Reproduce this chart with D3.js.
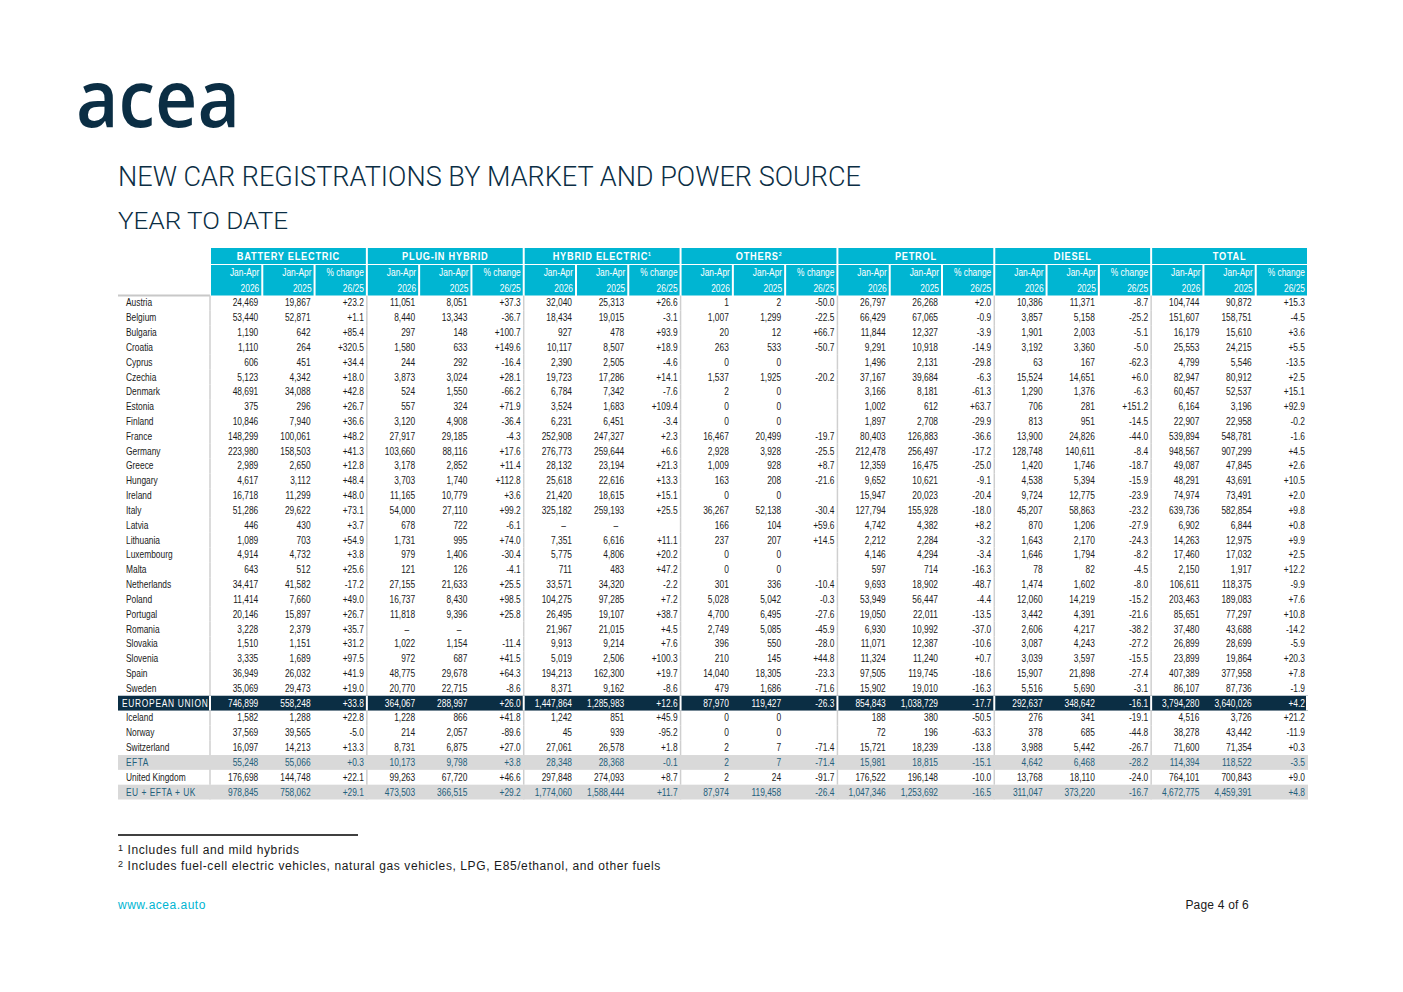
<!DOCTYPE html>
<html><head><meta charset="utf-8">
<script src="https://cdn.jsdelivr.net/npm/d3@7/dist/d3.min.js"></script>
<style>body{margin:0;background:#fff}svg{display:block}</style>
</head><body>
<svg id="c" width="1403" height="992"></svg>
<script>
const countries=["Austria","Belgium","Bulgaria","Croatia","Cyprus","Czechia","Denmark","Estonia","Finland","France","Germany","Greece","Hungary","Ireland","Italy","Latvia","Lithuania","Luxembourg","Malta","Netherlands","Poland","Portugal","Romania","Slovakia","Slovenia","Spain","Sweden","EUROPEAN UNION","Iceland","Norway","Switzerland","EFTA","United Kingdom","EU + EFTA + UK"];
const groups=["BATTERY ELECTRIC","PLUG-IN HYBRID","HYBRID ELECTRIC","OTHERS","PETROL","DIESEL","TOTAL"];
const groupSup=["","","1","2","","",""];
const subHead1=["Jan-Apr","Jan-Apr","% change"];
const subHead2=["2026","2025","26/25"];
const bev26=[24469,53440,1190,1110,606,5123,48691,375,10846,148299,223980,2989,4617,16718,51286,446,1089,4914,643,34417,11414,20146,3228,1510,3335,36949,35069,746899,1582,37569,16097,55248,176698,978845];
const bev25=[19867,52871,642,264,451,4342,34088,296,7940,100061,158503,2650,3112,11299,29622,430,703,4732,512,41582,7660,15897,2379,1151,1689,26032,29473,558248,1288,39565,14213,55066,144748,758062];
const bevCh=[23.2,1.1,85.4,320.5,34.4,18.0,42.8,26.7,36.6,48.2,41.3,12.8,48.4,48.0,73.1,3.7,54.9,3.8,25.6,-17.2,49.0,26.7,35.7,31.2,97.5,41.9,19.0,33.8,22.8,-5.0,13.3,0.3,22.1,29.1];
const phev26=[11051,8440,297,1580,244,3873,524,557,3120,27917,103660,3178,3703,11165,54000,678,1731,979,121,27155,16737,11818,null,1022,972,48775,20770,364067,1228,214,8731,10173,99263,473503];
const phev25=[8051,13343,148,633,292,3024,1550,324,4908,29185,88116,2852,1740,10779,27110,722,995,1406,126,21633,8430,9396,null,1154,687,29678,22715,288997,866,2057,6875,9798,67720,366515];
const phevCh=[37.3,-36.7,100.7,149.6,-16.4,28.1,-66.2,71.9,-36.4,-4.3,17.6,11.4,112.8,3.6,99.2,-6.1,74.0,-30.4,-4.1,25.5,98.5,25.8,null,-11.4,41.5,64.3,-8.6,26.0,41.8,-89.6,27.0,3.8,46.6,29.2];
const hev26=[32040,18434,927,10117,2390,19723,6784,3524,6231,252908,276773,28132,25618,21420,325182,null,7351,5775,711,33571,104275,26495,21967,9913,5019,194213,8371,1447864,1242,45,27061,28348,297848,1774060];
const hev25=[25313,19015,478,8507,2505,17286,7342,1683,6451,247327,259644,23194,22616,18615,259193,null,6616,4806,483,34320,97285,19107,21015,9214,2506,162300,9162,1285983,851,939,26578,28368,274093,1588444];
const hevCh=[26.6,-3.1,93.9,18.9,-4.6,14.1,-7.6,109.4,-3.4,2.3,6.6,21.3,13.3,15.1,25.5,null,11.1,20.2,47.2,-2.2,7.2,38.7,4.5,7.6,100.3,19.7,-8.6,12.6,45.9,-95.2,1.8,-0.1,8.7,11.7];
const oth26=[1,1007,20,263,0,1537,2,0,0,16467,2928,1009,163,0,36267,166,237,0,0,301,5028,4700,2749,396,210,14040,479,87970,0,0,2,2,2,87974];
const oth25=[2,1299,12,533,0,1925,0,0,0,20499,3928,928,208,0,52138,104,207,0,0,336,5042,6495,5085,550,145,18305,1686,119427,0,0,7,7,24,119458];
const othCh=[-50.0,-22.5,66.7,-50.7,null,-20.2,null,null,null,-19.7,-25.5,8.7,-21.6,null,-30.4,59.6,14.5,null,null,-10.4,-0.3,-27.6,-45.9,-28.0,44.8,-23.3,-71.6,-26.3,null,null,-71.4,-71.4,-91.7,-26.4];
const pet26=[26797,66429,11844,9291,1496,37167,3166,1002,1897,80403,212478,12359,9652,15947,127794,4742,2212,4146,597,9693,53949,19050,6930,11071,11324,97505,15902,854843,188,72,15721,15981,176522,1047346];
const pet25=[26268,67065,12327,10918,2131,39684,8181,612,2708,126883,256497,16475,10621,20023,155928,4382,2284,4294,714,18902,56447,22011,10992,12387,11240,119745,19010,1038729,380,196,18239,18815,196148,1253692];
const petCh=[2.0,-0.9,-3.9,-14.9,-29.8,-6.3,-61.3,63.7,-29.9,-36.6,-17.2,-25.0,-9.1,-20.4,-18.0,8.2,-3.2,-3.4,-16.3,-48.7,-4.4,-13.5,-37.0,-10.6,0.7,-18.6,-16.3,-17.7,-50.5,-63.3,-13.8,-15.1,-10.0,-16.5];
const die26=[10386,3857,1901,3192,63,15524,1290,706,813,13900,128748,1420,4538,9724,45207,870,1643,1646,78,1474,12060,3442,2606,3087,3039,15907,5516,292637,276,378,3988,4642,13768,311047];
const die25=[11371,5158,2003,3360,167,14651,1376,281,951,24826,140611,1746,5394,12775,58863,1206,2170,1794,82,1602,14219,4391,4217,4243,3597,21898,5690,348642,341,685,5442,6468,18110,373220];
const dieCh=[-8.7,-25.2,-5.1,-5.0,-62.3,6.0,-6.3,151.2,-14.5,-44.0,-8.4,-18.7,-15.9,-23.9,-23.2,-27.9,-24.3,-8.2,-4.5,-8.0,-15.2,-21.6,-38.2,-27.2,-15.5,-27.4,-3.1,-16.1,-19.1,-44.8,-26.7,-28.2,-24.0,-16.7];
const tot26=[104744,151607,16179,25553,4799,82947,60457,6164,22907,539894,948567,49087,48291,74974,639736,6902,14263,17460,2150,106611,203463,85651,37480,26899,23899,407389,86107,3794280,4516,38278,71600,114394,764101,4672775];
const tot25=[90872,158751,15610,24215,5546,80912,52537,3196,22958,548781,907299,47845,43691,73491,582854,6844,12975,17032,1917,118375,189083,77297,43688,28699,19864,377958,87736,3640026,3726,43442,71354,118522,700843,4459391];
const totCh=[15.3,-4.5,3.6,5.5,-13.5,2.5,15.1,92.9,-0.2,-1.6,4.5,2.6,10.5,2.0,9.8,0.8,9.9,2.5,12.2,-9.9,7.6,10.8,-14.2,-5.9,20.3,7.8,-1.9,4.2,21.2,-11.9,0.3,-3.5,9.0,4.8];
const footnotes=["Includes full and mild hybrids","Includes fuel-cell electric vehicles, natural gas vehicles, LPG, E85/ethanol, and other fuels"];

const series=[[bev26,bev25,bevCh],[phev26,phev25,phevCh],[hev26,hev25,hevCh],[oth26,oth25,othCh],[pet26,pet25,petCh],[die26,die25,dieCh],[tot26,tot25,totCh]];
const loc=d3.formatLocale({decimal:".",thousands:",",grouping:[3],currency:["",""],minus:"-"});
const fInt=loc.format(","), fCh=loc.format("+.1f");
const NAVY="#0b2e44", CYAN="#00b5d2", GREY="#d9d9d9", TXT="#1a1a1a", TEAL="#23607c";
const FONT="'Liberation Sans',Arial,sans-serif";
const SX=0.84;
const svg=d3.select("#c");
function ntext(g,x,yy,anchor,str){
  return g.append("text").attr("transform",`translate(${x},${yy}) scale(${SX},1)`).attr("text-anchor",anchor).text(str);
}

svg.append("text").attr("x",76).attr("y",127).attr("font-family","'Open Sans','DejaVu Sans',sans-serif")
 .attr("font-size",80).attr("font-weight",600).attr("fill",NAVY).attr("textLength",164).attr("lengthAdjust","spacingAndGlyphs").text("acea");
svg.append("text").attr("x",118).attr("y",186).attr("font-family","Roboto,'Liberation Sans',sans-serif").attr("font-weight",300)
 .attr("font-size",27.5).attr("fill",NAVY).attr("textLength",743).attr("lengthAdjust","spacingAndGlyphs").text("NEW CAR REGISTRATIONS BY MARKET AND POWER SOURCE");
svg.append("text").attr("x",118).attr("y",229).attr("font-family","Roboto,'Liberation Sans',sans-serif").attr("font-weight",300)
 .attr("font-size",23).attr("fill",NAVY).attr("textLength",170).attr("lengthAdjust","spacingAndGlyphs").text("YEAR TO DATE");

const x0=d3.scaleBand().domain(groups).range([210,1308]);
const x1=d3.scaleBand().domain([0,1,2]).range([0,x0.bandwidth()]);
const y=d3.scaleBand().domain(d3.range(countries.length)).range([295.5,799.5]);
const hTop=248, hMid=265, hSub=281, hBot=295.5;

const hg=svg.append("g").attr("font-family",FONT);
groups.forEach((g,gi)=>{
  const gx=x0(g);
  hg.append("rect").attr("x",gx+1).attr("y",hTop).attr("width",x0.bandwidth()-2).attr("height",hMid-hTop-1).attr("fill",CYAN);
  const t=ntext(hg,gx+x0.bandwidth()/2,hTop+12,"middle",g).attr("fill","#fff")
   .attr("font-size",11).attr("font-weight",700).attr("letter-spacing",0.9);
  if(groupSup[gi]) t.append("tspan").attr("font-size",6).attr("dy",-4).text(groupSup[gi]);
  [0,1,2].forEach(k=>{
    const cx=gx+x1(k);
    hg.append("rect").attr("x",cx+1).attr("y",hMid).attr("width",x1.bandwidth()-2).attr("height",hBot-hMid).attr("fill",CYAN);
    ntext(hg,cx+x1.bandwidth()-3,hMid+11,"end",subHead1[k]).attr("fill","#fff").attr("font-size",10);
    ntext(hg,cx+x1.bandwidth()-3,hSub+11,"end",subHead2[k]).attr("fill","#fff").attr("font-size",10);
  });
});
hg.append("line").attr("x1",118).attr("x2",210).attr("y1",hBot).attr("y2",hBot).attr("stroke","#c8c8c8").attr("stroke-width",2);

const rg=svg.append("g").attr("font-family",FONT).attr("font-size",10);
countries.forEach((c,i)=>{
  const yy=y(i), h=y.bandwidth();
  const isEU=c==="EUROPEAN UNION", isGrey=(c==="EFTA"||c==="EU + EFTA + UK");
  if(isEU) rg.append("rect").attr("x",118).attr("y",yy).attr("width",1308-118).attr("height",h).attr("fill",NAVY);
  if(isGrey) rg.append("rect").attr("x",118).attr("y",yy).attr("width",1308-118).attr("height",h).attr("fill",GREY);
  const col=isEU?"#fff":(isGrey?TEAL:TXT);
  ntext(rg,isEU?122:126,yy+h/2+3.5,"start",c).attr("fill",col).attr("letter-spacing",isEU?0.85:(isGrey?0.6:0));
  series.forEach((s,gi)=>{
    const gx=x0(groups[gi]);
    [0,1,2].forEach(k=>{
      const v=s[k][i];
      let txt;
      if(k<2) txt=(v===null)?"–":fInt(v); else txt=(v===null)?"":fCh(v);
      ntext(rg,gx+x1(k)+x1.bandwidth()-(k===2?3:4)-(v===null&&k<2?6:0),yy+h/2+3.5,"end",txt).attr("fill",col);
    });
  });
  const sepCol=isEU?"#fff":(isGrey?GREY:"#cfcfcf");
  groups.forEach(g=>{
    rg.append("line").attr("x1",x0(g)).attr("x2",x0(g)).attr("y1",yy).attr("y2",yy+h).attr("stroke",sepCol).attr("stroke-width",isEU?2:1.5);
  });
  if(isEU) rg.append("line").attr("x1",1307).attr("x2",1307).attr("y1",yy).attr("y2",yy+h).attr("stroke","#fff").attr("stroke-width",2);
});

const fg=svg.append("g").attr("font-family","'Liberation Sans',Arial,sans-serif").attr("font-size",12).attr("fill","#1a1a1a");
fg.append("line").attr("x1",118).attr("x2",358).attr("y1",835).attr("y2",835).attr("stroke","#000").attr("stroke-width",1.3);
footnotes.forEach((f,i)=>{
  const t=fg.append("text").attr("x",118).attr("y",854+i*16).attr("letter-spacing",0.6);
  t.append("tspan").attr("font-size",9).attr("dy",-3).text(i+1);
  t.append("tspan").attr("dy",3).text(" "+f);
});
svg.append("text").attr("x",118).attr("y",909).attr("font-family","'Liberation Sans',Arial,sans-serif").attr("font-size",12).attr("fill",CYAN).attr("letter-spacing",0.5).text("www.acea.auto");
svg.append("text").attr("x",1249).attr("y",909).attr("text-anchor","end").attr("font-family","'Liberation Sans',Arial,sans-serif").attr("font-size",12).attr("fill","#1a1a1a").attr("letter-spacing",0.2).text("Page 4 of 6");
</script>
</body></html>
